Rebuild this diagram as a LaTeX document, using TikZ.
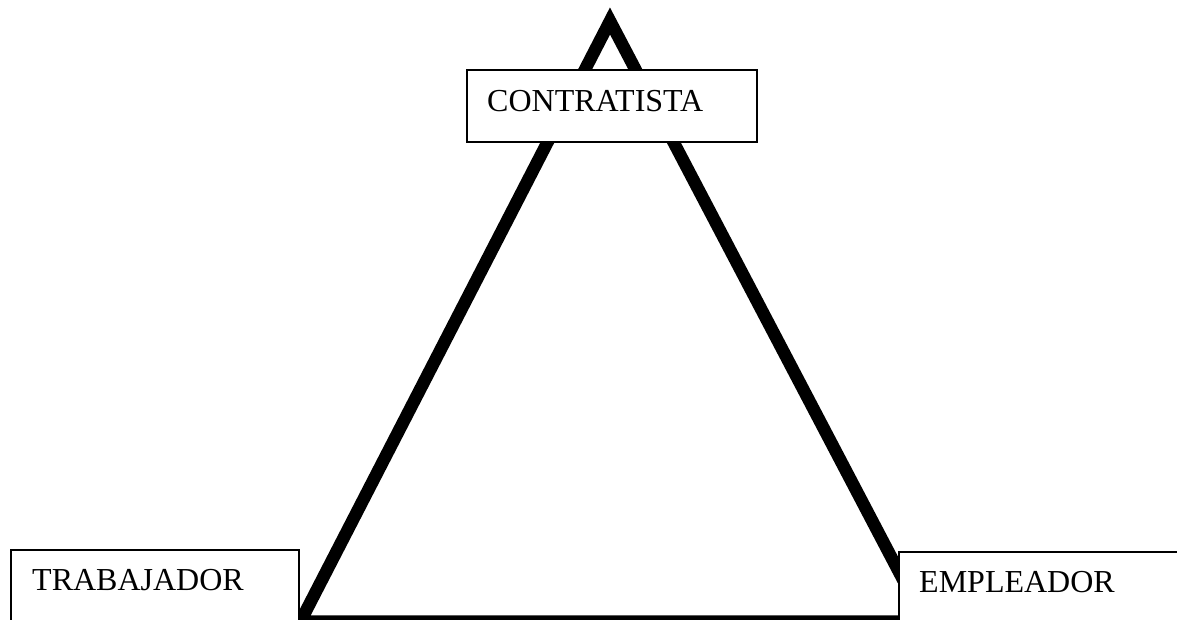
\documentclass[tikz,border=0pt]{standalone}
\usepackage{fontspec}
\setmainfont{Liberation Serif}
\begin{document}
\begin{tikzpicture}[x=1pt,y=-1pt,
  labelbox/.style={draw=black, line width=1.5pt, fill=white, anchor=north west, inner sep=0pt},
  labeltext/.style={anchor=base west, inner sep=0pt, font=\fontsize{32}{38}\selectfont},
  tri/.style={draw=black, line width=12.5pt, line join=miter, miter limit=10}]
\useasboundingbox (0,0) rectangle (1177,619);
\clip (0,0) rectangle (1177,619);
% triangle
\coordinate (A) at (610,21);
\coordinate (B) at (300.5,621.5);
\coordinate (C) at (925,621.5);
\draw[tri] (A) -- (B) -- (C) -- cycle;
% boxes
\node[labelbox, minimum width=290pt, minimum height=72pt] (contbox) at (466,69) {};
\node[labeltext] (cont) at (487,111) {CONTRATISTA};
\node[labelbox, minimum width=288pt, minimum height=100pt] (trabbox) at (10,549) {};
\node[labeltext] (trab) at (32,590) {TRABAJADOR};
\node[labelbox, minimum width=300pt, minimum height=100pt] (emplbox) at (898,551) {};
\node[labeltext] (empl) at (919,592) {EMPLEADOR};
\end{tikzpicture}
\end{document}
